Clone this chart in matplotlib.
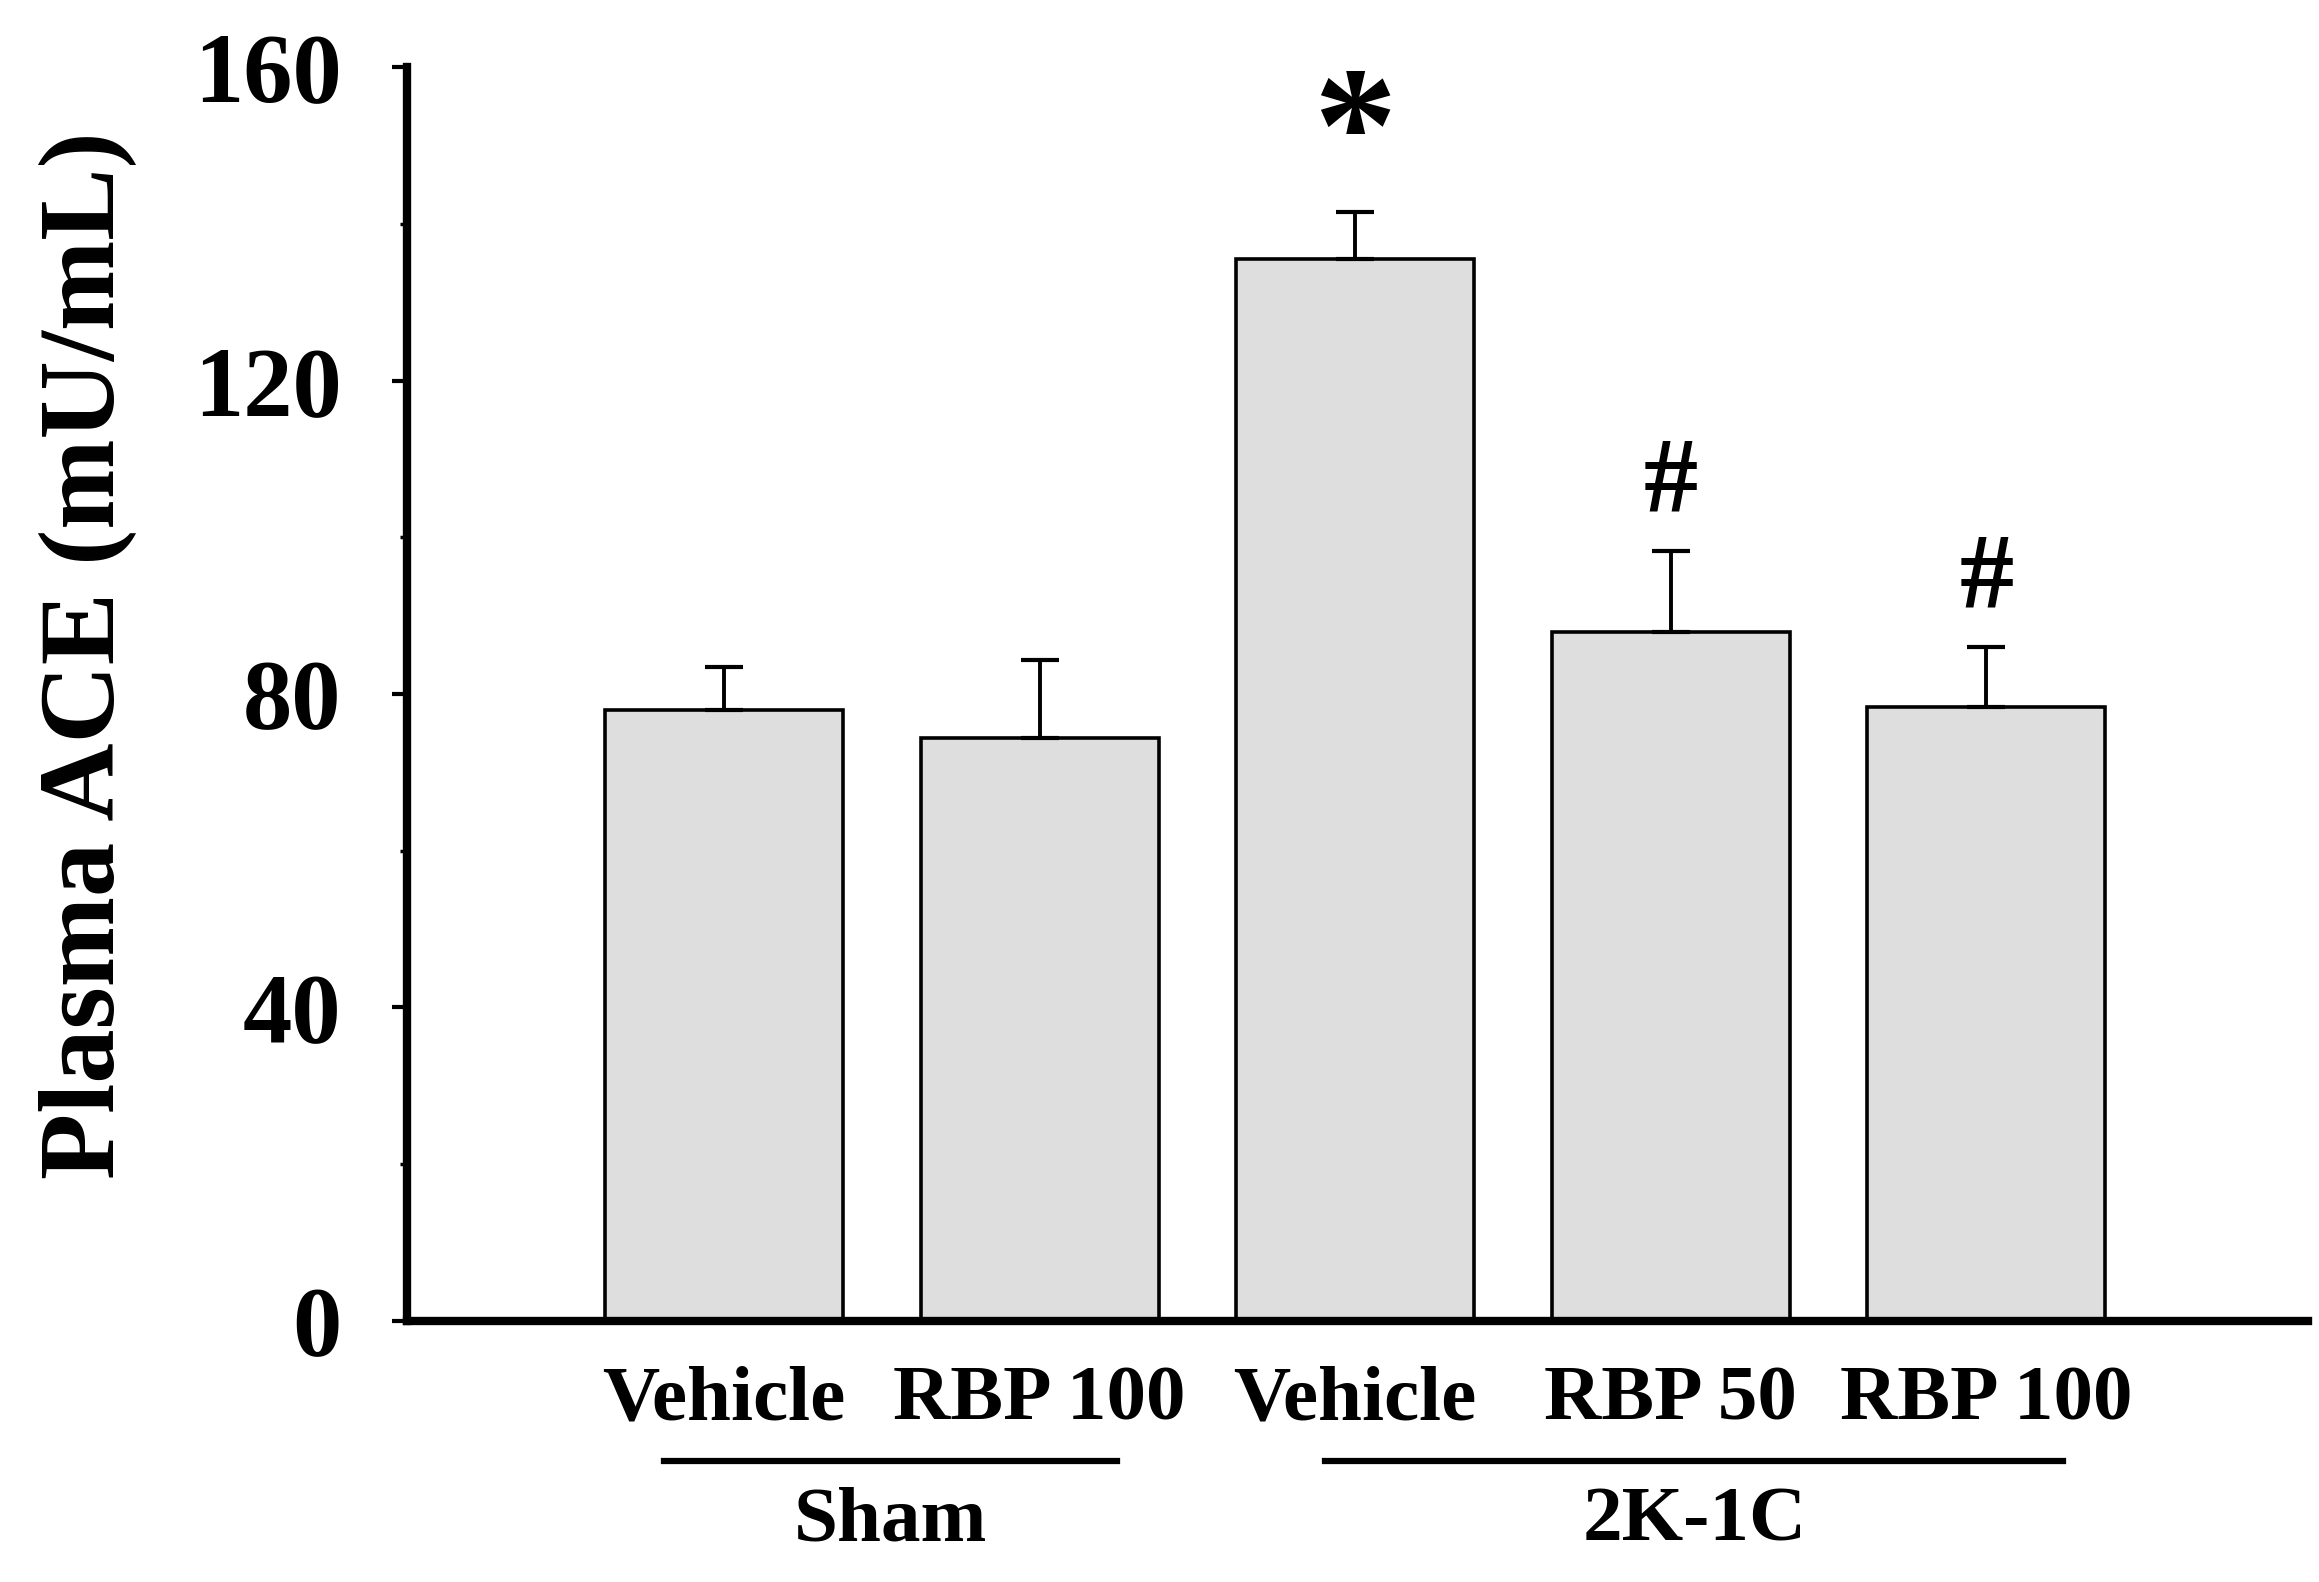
import matplotlib.pyplot as plt
from matplotlib.ticker import MultipleLocator

# data
labels = ['Vehicle', 'RBP 100', 'Vehicle', 'RBP 50', 'RBP 100']
means = [77.9, 74.4, 135.5, 87.9, 78.4]
sems = [5.5, 9.9, 6.0, 10.4, 7.6]
marks = ['', '', '*', '#', '#']
groups = ['Sham', '2K-1C']
group_spans = [(-0.19, 1.246), (1.905, 4.244)]

plt.rcParams['font.family'] = 'Liberation Serif'
plt.rcParams['font.weight'] = 'bold'

fig = plt.figure(figsize=(23.19, 15.82), dpi=100)
ax = fig.add_axes([0.1755, 0.165, 0.8198, 0.7926])

x = range(len(means))
ax.bar(x, means, width=0.755, color='#dedede', edgecolor='black', linewidth=2.6,
       yerr=[[0] * len(sems), sems], capsize=13.5,
       error_kw=dict(elinewidth=2.8, capthick=3.0, ecolor='black'))

# significance marks above the error bars
for i, m in enumerate(marks):
    if not m:
        continue
    top = means[i] + sems[i]
    if m == '*':
        ax.text(i, top + 4.0, m, ha='center', va='baseline', fontsize=120, fontweight='bold')
    else:
        ax.text(i, top + 5.0, m, ha='center', va='baseline', fontsize=78, fontweight='bold')

ax.set_xlim(-1.005, 5.02)
ax.set_ylim(0, 160)
ax.yaxis.set_major_locator(MultipleLocator(40))
ax.yaxis.set_minor_locator(MultipleLocator(20))
ax.spines['top'].set_visible(False)
ax.spines['right'].set_visible(False)
ax.spines['left'].set_linewidth(6)
ax.spines['bottom'].set_linewidth(6)
ax.tick_params(axis='y', which='major', length=11, width=3, labelsize=71, pad=36)
ax.tick_params(axis='y', which='minor', length=5, width=2.5)
ax.set_xticks(list(x))
ax.set_xticklabels(labels, fontsize=57, fontweight='bold')
ax.tick_params(axis='x', length=0, pad=32)
for t in ax.get_yticklabels():
    t.set_fontweight('bold')

ax.set_ylabel('Plasma ACE (mU/mL)', fontsize=78, fontweight='bold')
ax.yaxis.set_label_coords(-0.142, 0.531)

# group annotations below the axis
trans = ax.get_xaxis_transform()
for name, (a, b) in zip(groups, group_spans):
    ax.plot([a, b], [-0.112, -0.112], color='black', linewidth=4.5,
            transform=trans, clip_on=False)
    ax.text((a + b) / 2, -0.160, name, transform=trans, ha='center', va='center',
            fontsize=57, fontweight='bold')

fig.savefig('out.png', dpi=100)
